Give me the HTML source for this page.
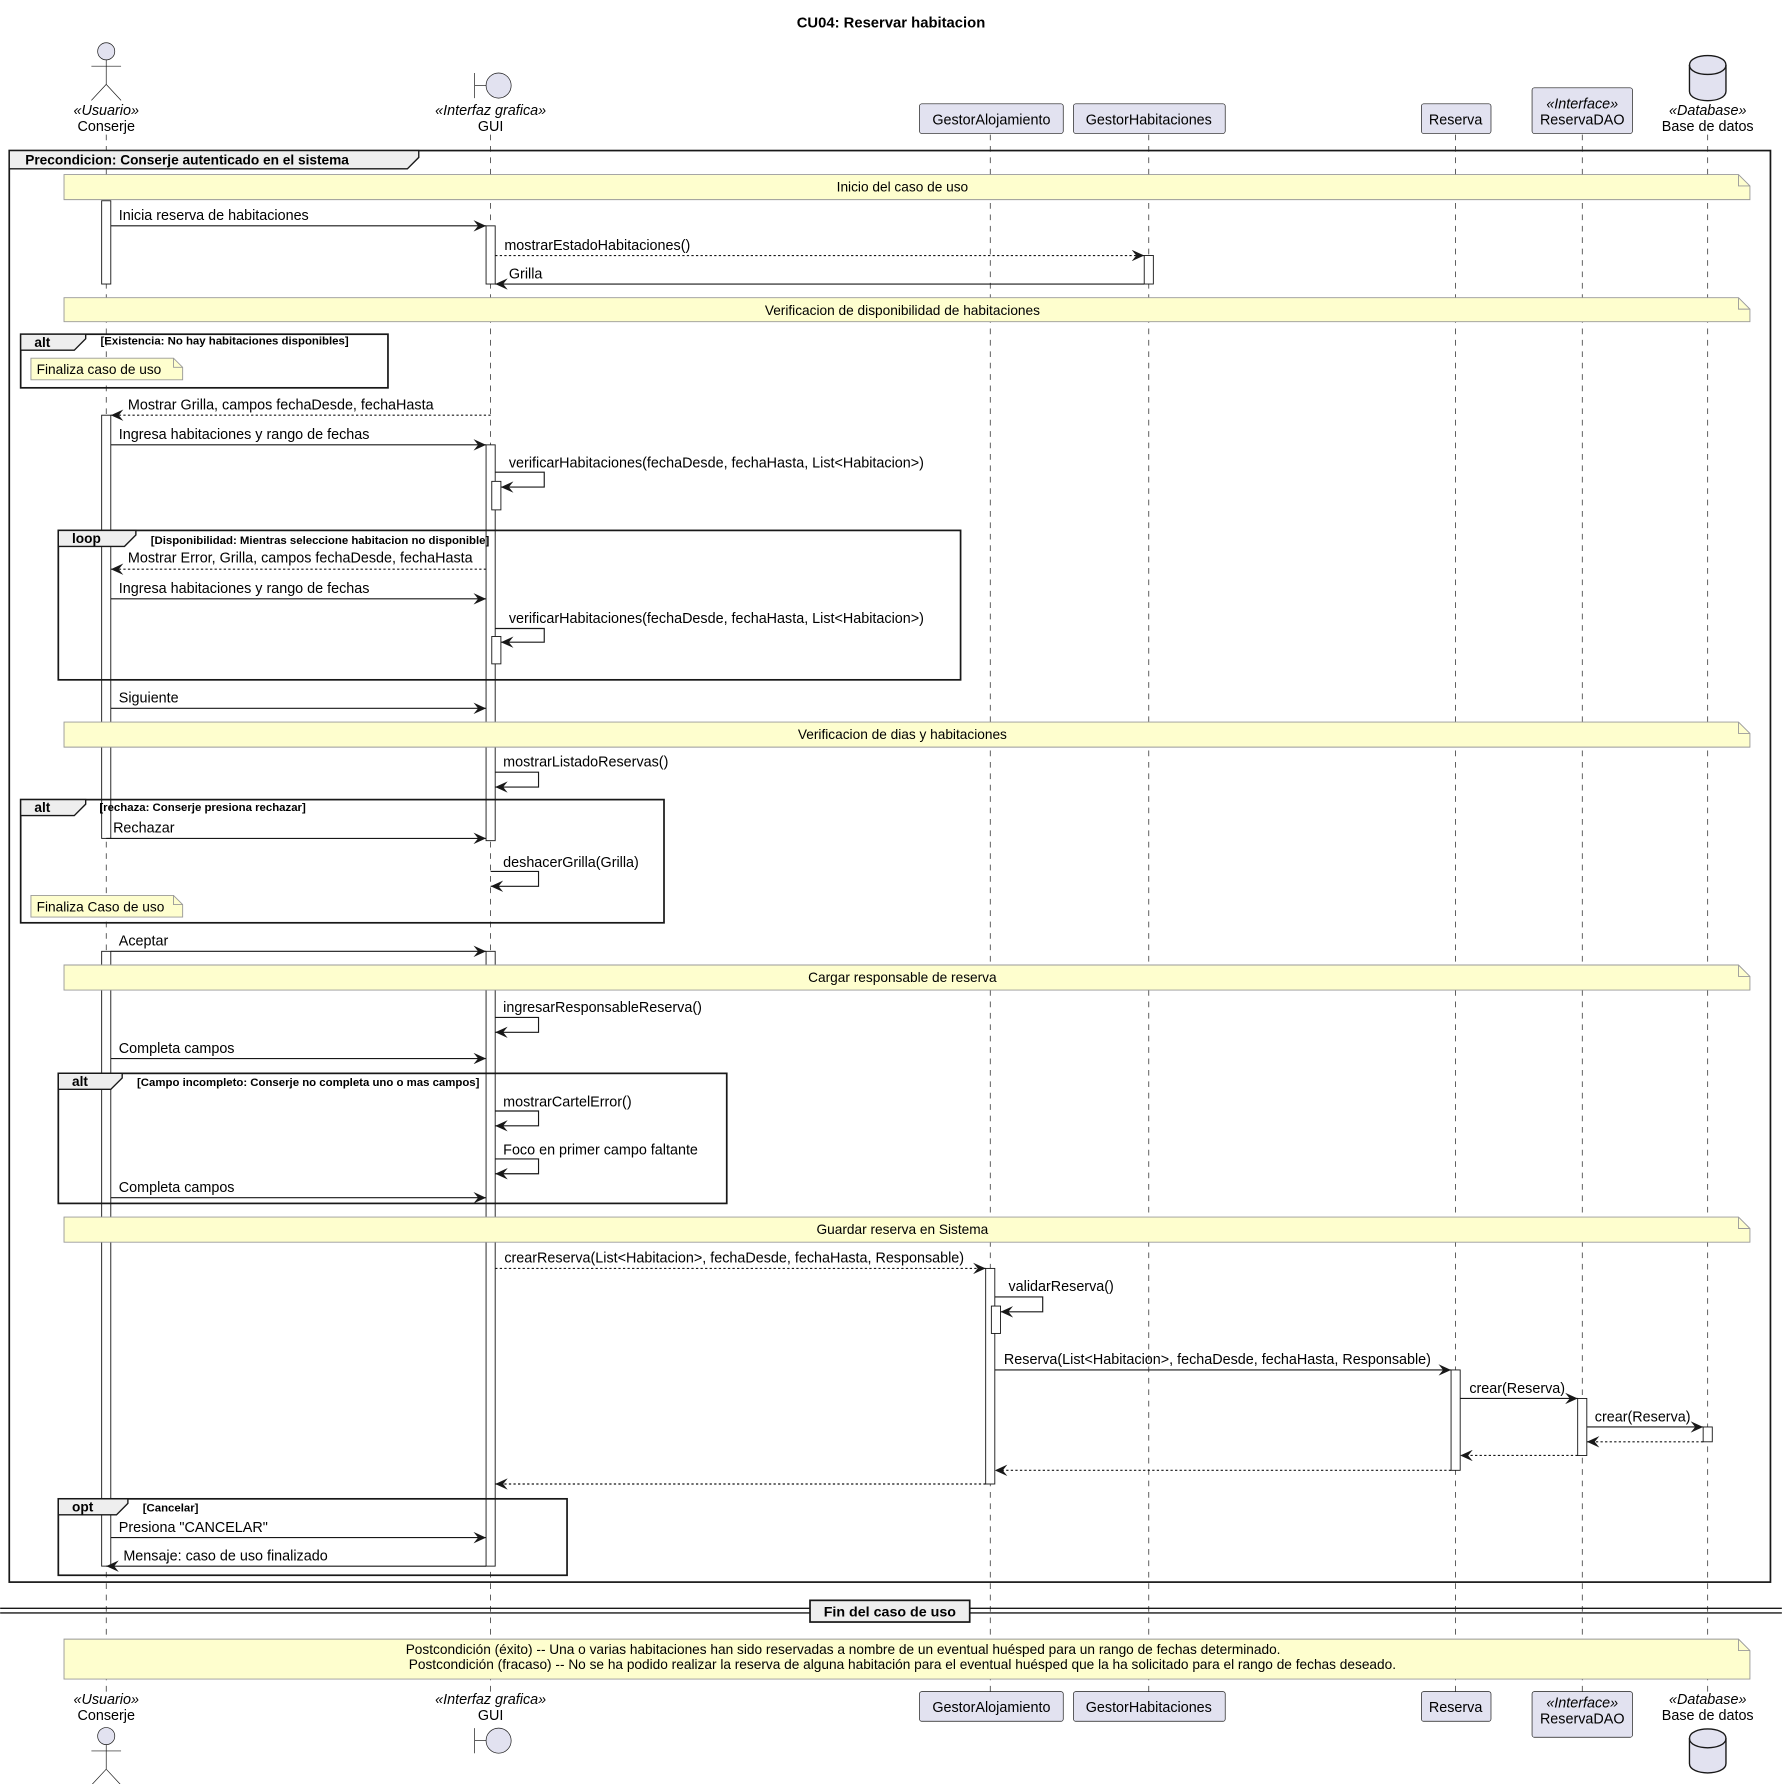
<!DOCTYPE html>
<html><head><meta charset="utf-8"><style>html,body{margin:0;padding:0;background:#fff}svg{display:block}</style></head><body>
<svg xmlns="http://www.w3.org/2000/svg" width="1782" height="1784" viewBox="0 0 1562 1564" font-family="'Liberation Sans', 'DejaVu Sans', sans-serif" font-size="12.6">
<defs>
<marker id="a" markerWidth="12" markerHeight="10" refX="11" refY="5" orient="auto" markerUnits="userSpaceOnUse"><path d="M0,0 L11,5 L0,10 L4,5 Z" fill="#181818"/></marker>
</defs>
<rect width="1562" height="1564" fill="#fff"/>
<text x="781" y="24" text-anchor="middle" font-weight="bold" font-size="13">CU04: Reservar habitacion</text>

<!-- lifelines -->
<g stroke="#181818" stroke-width="0.6" stroke-dasharray="5,5">
<line x1="93" y1="118" x2="93" y2="1483"/><line x1="430" y1="118" x2="430" y2="1483"/>
<line x1="868" y1="118" x2="868" y2="1483"/><line x1="1007" y1="118" x2="1007" y2="1483"/>
<line x1="1276" y1="118" x2="1276" y2="1483"/><line x1="1387" y1="118" x2="1387" y2="1483"/>
<line x1="1497" y1="118" x2="1497" y2="1483"/>
</g>

<!-- heads top -->
<g fill="#e2e2f0" stroke="#181818" stroke-width="0.6">
<circle cx="93" cy="45" r="7.5"/>
<line x1="93" y1="52.5" x2="93" y2="74"/><line x1="80" y1="58" x2="106" y2="58"/><line x1="93" y1="74" x2="80" y2="88"/><line x1="93" y1="74" x2="106" y2="88"/>
<line x1="416" y1="64" x2="416" y2="86"/><line x1="416" y1="75" x2="426" y2="75"/><circle cx="437" cy="75" r="11"/>
<rect x="806" y="91" width="126" height="26" rx="2"/>
<rect x="941" y="91" width="133" height="26" rx="2"/>
<rect x="1246" y="91" width="61" height="26" rx="2"/>
<rect x="1343" y="77" width="88" height="40" rx="2"/>
<path d="M1481,57 C1481,46 1513,46 1513,57 L1513,80 C1513,91 1481,91 1481,80 Z" stroke-width="1.2"/>
<path d="M1481,57 C1481,68 1513,68 1513,57" fill="none" stroke-width="1.2"/>
</g>
<g text-anchor="middle">
<text x="93" y="101" font-style="italic">«Usuario»</text><text x="93" y="115">Conserje</text>
<text x="430" y="101" font-style="italic">«Interfaz grafica»</text><text x="430" y="115">GUI</text>
<text x="869" y="109">GestorAlojamiento</text><text x="1007" y="109">GestorHabitaciones</text>
<text x="1276" y="109">Reserva</text>
<text x="1387" y="95" font-style="italic">«Interface»</text><text x="1387" y="109">ReservaDAO</text>
<text x="1497" y="101" font-style="italic">«Database»</text><text x="1497" y="115">Base de datos</text>
</g>

<!-- heads bottom -->
<g fill="#e2e2f0" stroke="#181818" stroke-width="0.6">
<circle cx="93" cy="1522" r="7.5"/>
<line x1="93" y1="1529.5" x2="93" y2="1551"/><line x1="80" y1="1535" x2="106" y2="1535"/><line x1="93" y1="1551" x2="80" y2="1565"/><line x1="93" y1="1551" x2="106" y2="1565"/>
<line x1="416" y1="1515" x2="416" y2="1537"/><line x1="416" y1="1526" x2="426" y2="1526"/><circle cx="437" cy="1526" r="11"/>
<rect x="806" y="1483" width="126" height="26" rx="2"/>
<rect x="941" y="1483" width="133" height="26" rx="2"/>
<rect x="1246" y="1483" width="61" height="26" rx="2"/>
<rect x="1343" y="1483" width="88" height="40" rx="2"/>
<path d="M1481,1524 C1481,1513 1513,1513 1513,1524 L1513,1546 C1513,1557 1481,1557 1481,1546 Z" stroke-width="1.2"/>
<path d="M1481,1524 C1481,1535 1513,1535 1513,1524" fill="none" stroke-width="1.2"/>
</g>
<g text-anchor="middle">
<text x="93" y="1494" font-style="italic">«Usuario»</text><text x="93" y="1508">Conserje</text>
<text x="430" y="1494" font-style="italic">«Interfaz grafica»</text><text x="430" y="1508">GUI</text>
<text x="869" y="1501">GestorAlojamiento</text><text x="1007" y="1501">GestorHabitaciones</text>
<text x="1276" y="1501">Reserva</text>
<text x="1387" y="1497" font-style="italic">«Interface»</text><text x="1387" y="1511">ReservaDAO</text>
<text x="1497" y="1494" font-style="italic">«Database»</text><text x="1497" y="1508">Base de datos</text>
</g>

<!-- activations -->
<g fill="#fff" stroke="#181818" stroke-width="0.8">
<rect x="89" y="176" width="8" height="73"/>
<rect x="426" y="198" width="8" height="51"/>
<rect x="1003" y="224" width="8" height="25"/>
<rect x="89" y="364" width="8" height="371"/>
<rect x="426" y="390" width="8" height="347"/>
<rect x="431" y="422" width="8" height="25"/>
<rect x="431" y="558" width="8" height="24"/>
<rect x="89" y="834" width="8" height="539"/>
<rect x="426" y="834" width="8" height="539"/>
<rect x="864" y="1112" width="8" height="189"/>
<rect x="869" y="1145" width="8" height="24"/>
<rect x="1272" y="1201" width="8" height="88"/>
<rect x="1383" y="1226" width="8" height="50"/>
<rect x="1493" y="1251" width="8" height="13"/>
</g>

<!-- main frame -->
<g fill="none" stroke="#181818" stroke-width="1.5">
<rect x="8" y="132" width="1544" height="1255"/>
</g>
<path d="M8,132 L367,132 L367,138 L357,148 L8,148 Z" fill="#eeeeee" stroke="#181818" stroke-width="1.2"/>
<text x="22" y="144" font-weight="bold" font-size="12">Precondicion: Conserje autenticado en el sistema</text>

<!-- notes -->
<g fill="#fefece" stroke="#999" stroke-width="0.8">
<path d="M56,153 L1524,153 L1534,163 L1534,175 L56,175 Z"/>
<path d="M56,261 L1524,261 L1534,271 L1534,282 L56,282 Z"/>
<path d="M56,633 L1524,633 L1534,643 L1534,655 L56,655 Z"/>
<path d="M56,846 L1524,846 L1534,856 L1534,868 L56,868 Z"/>
<path d="M56,1067 L1524,1067 L1534,1077 L1534,1089 L56,1089 Z"/>
<path d="M56,1437 L1524,1437 L1534,1447 L1534,1472 L56,1472 Z"/>
<path d="M27,314 L152,314 L160,322 L160,333 L27,333 Z"/>
<path d="M27,785 L152,785 L160,793 L160,804 L27,804 Z"/>
</g>
<g fill="none" stroke="#999" stroke-width="0.8">
<path d="M1524,153 L1524,163 L1534,163 M1524,261 L1524,271 L1534,271 M1524,633 L1524,643 L1534,643 M1524,846 L1524,856 L1534,856 M1524,1067 L1524,1077 L1534,1077 M1524,1437 L1524,1447 L1534,1447 M152,314 L152,322 L160,322 M152,785 L152,793 L160,793"/>
</g>
<g text-anchor="middle" font-size="12">
<text x="791" y="168">Inicio del caso de uso</text>
<text x="791" y="276">Verificacion de disponibilidad de habitaciones</text>
<text x="791" y="648">Verificacion de dias y habitaciones</text>
<text x="791" y="861">Cargar responsable de reserva</text>
<text x="791" y="1082">Guardar reserva en Sistema</text>
<text x="739" y="1450">Postcondición (éxito) -- Una o varias habitaciones han sido reservadas a nombre de un eventual huésped para un rango de fechas determinado.</text>
<text x="791" y="1463">Postcondición (fracaso) -- No se ha podido realizar la reserva de alguna habitación para el eventual huésped que la ha solicitado para el rango de fechas deseado.</text>
</g>
<text x="32" y="328" font-size="12">Finaliza caso de uso</text>
<text x="32" y="799" font-size="12">Finaliza Caso de uso</text>

<!-- sub frames -->
<g fill="none" stroke="#181818" stroke-width="1.5">
<rect x="18" y="293" width="322" height="47"/>
<rect x="51" y="465" width="791" height="131"/>
<rect x="18" y="701" width="564" height="108"/>
<rect x="51" y="941" width="586" height="114"/>
<rect x="51" y="1314" width="446" height="67"/>
</g>
<g fill="#eeeeee" stroke="#181818" stroke-width="1.2">
<path d="M18,293 L75,293 L75,297 L65,307 L18,307 Z"/>
<path d="M51,465 L119,465 L119,469 L109,479 L51,479 Z"/>
<path d="M18,701 L75,701 L75,705 L65,715 L18,715 Z"/>
<path d="M51,941 L107,941 L107,945 L97,955 L51,955 Z"/>
<path d="M51,1314 L112,1314 L112,1318 L102,1328 L51,1328 Z"/>
</g>
<g font-weight="bold" font-size="12">
<text x="30" y="304">alt</text>
<text x="88" y="302" font-size="10">[Existencia: No hay habitaciones disponibles]</text>
<text x="63" y="476">loop</text>
<text x="132" y="477" font-size="10">[Disponibilidad: Mientras seleccione habitacion no disponible]</text>
<text x="30" y="712">alt</text>
<text x="87" y="711" font-size="10">[rechaza: Conserje presiona rechazar]</text>
<text x="63" y="952">alt</text>
<text x="120" y="952" font-size="10">[Campo incompleto: Conserje no completa uno o mas campos]</text>
<text x="63" y="1325">opt</text>
<text x="125" y="1325" font-size="10">[Cancelar]</text>
</g>

<!-- messages -->
<g stroke="#181818" stroke-width="1" fill="none" marker-end="url(#a)">
<line x1="97" y1="198" x2="426" y2="198"/>
<line x1="434" y1="224" x2="1003" y2="224" stroke-dasharray="2,2"/>
<line x1="1003" y1="249" x2="434" y2="249"/>
<line x1="430" y1="364" x2="97" y2="364" stroke-dasharray="2,2"/>
<line x1="97" y1="390" x2="426" y2="390"/>
<path d="M434,414 L477,414 L477,427 L439,427"/>
<line x1="426" y1="499" x2="97" y2="499" stroke-dasharray="2,2"/>
<line x1="97" y1="525" x2="426" y2="525"/>
<path d="M434,551 L477,551 L477,563 L439,563"/>
<line x1="97" y1="621" x2="426" y2="621"/>
<path d="M434,677 L472,677 L472,690 L434,690"/>
<line x1="93" y1="735" x2="426" y2="735"/>
<path d="M430,764 L472,764 L472,777 L430,777"/>
<line x1="97" y1="834" x2="426" y2="834"/>
<path d="M434,892 L472,892 L472,905 L434,905"/>
<line x1="97" y1="928" x2="426" y2="928"/>
<path d="M434,974 L472,974 L472,987 L434,987"/>
<path d="M434,1016 L472,1016 L472,1029 L434,1029"/>
<line x1="97" y1="1050" x2="426" y2="1050"/>
<line x1="434" y1="1112" x2="864" y2="1112" stroke-dasharray="2,2"/>
<path d="M872,1137 L914,1137 L914,1150 L877,1150"/>
<line x1="872" y1="1201" x2="1272" y2="1201"/>
<line x1="1280" y1="1226" x2="1383" y2="1226"/>
<line x1="1391" y1="1251" x2="1493" y2="1251"/>
<line x1="1493" y1="1264" x2="1391" y2="1264" stroke-dasharray="2,2"/>
<line x1="1383" y1="1276" x2="1280" y2="1276" stroke-dasharray="2,2"/>
<line x1="1272" y1="1289" x2="872" y2="1289" stroke-dasharray="2,2"/>
<line x1="864" y1="1301" x2="434" y2="1301" stroke-dasharray="2,2"/>
<line x1="97" y1="1348" x2="426" y2="1348"/>
<line x1="426" y1="1373" x2="93" y2="1373"/>
</g>
<g>
<text x="104" y="193">Inicia reserva de habitaciones</text>
<text x="442" y="219">mostrarEstadoHabitaciones()</text>
<text x="446" y="244">Grilla</text>
<text x="112" y="359">Mostrar Grilla, campos fechaDesde, fechaHasta</text>
<text x="104" y="385">Ingresa habitaciones y rango de fechas</text>
<text x="446" y="410">verificarHabitaciones(fechaDesde, fechaHasta, List&lt;Habitacion&gt;)</text>
<text x="112" y="493">Mostrar Error, Grilla, campos fechaDesde, fechaHasta</text>
<text x="104" y="520">Ingresa habitaciones y rango de fechas</text>
<text x="446" y="546">verificarHabitaciones(fechaDesde, fechaHasta, List&lt;Habitacion&gt;)</text>
<text x="104" y="616">Siguiente</text>
<text x="441" y="672">mostrarListadoReservas()</text>
<text x="99" y="730">Rechazar</text>
<text x="441" y="760">deshacerGrilla(Grilla)</text>
<text x="104" y="829">Aceptar</text>
<text x="441" y="887">ingresarResponsableReserva()</text>
<text x="104" y="923">Completa campos</text>
<text x="441" y="970">mostrarCartelError()</text>
<text x="441" y="1012">Foco en primer campo faltante</text>
<text x="104" y="1045">Completa campos</text>
<text x="442" y="1107">crearReserva(List&lt;Habitacion&gt;, fechaDesde, fechaHasta, Responsable)</text>
<text x="884" y="1132">validarReserva()</text>
<text x="880" y="1196">Reserva(List&lt;Habitacion&gt;, fechaDesde, fechaHasta, Responsable)</text>
<text x="1288" y="1221">crear(Reserva)</text>
<text x="1398" y="1246">crear(Reserva)</text>
<text x="104" y="1343">Presiona "CANCELAR"</text>
<text x="108" y="1368">Mensaje: caso de uso finalizado</text>
</g>

<!-- divider -->
<g stroke="#181818" stroke-width="1.2">
<line x1="0" y1="1410" x2="1562" y2="1410"/><line x1="0" y1="1414" x2="1562" y2="1414"/>
</g>
<rect x="710" y="1403" width="140" height="19" fill="#eeeeee" stroke="#181818" stroke-width="1.5"/>
<text x="780" y="1417" text-anchor="middle" font-weight="bold" font-size="12.5">Fin del caso de uso</text>
</svg>
</body></html>
